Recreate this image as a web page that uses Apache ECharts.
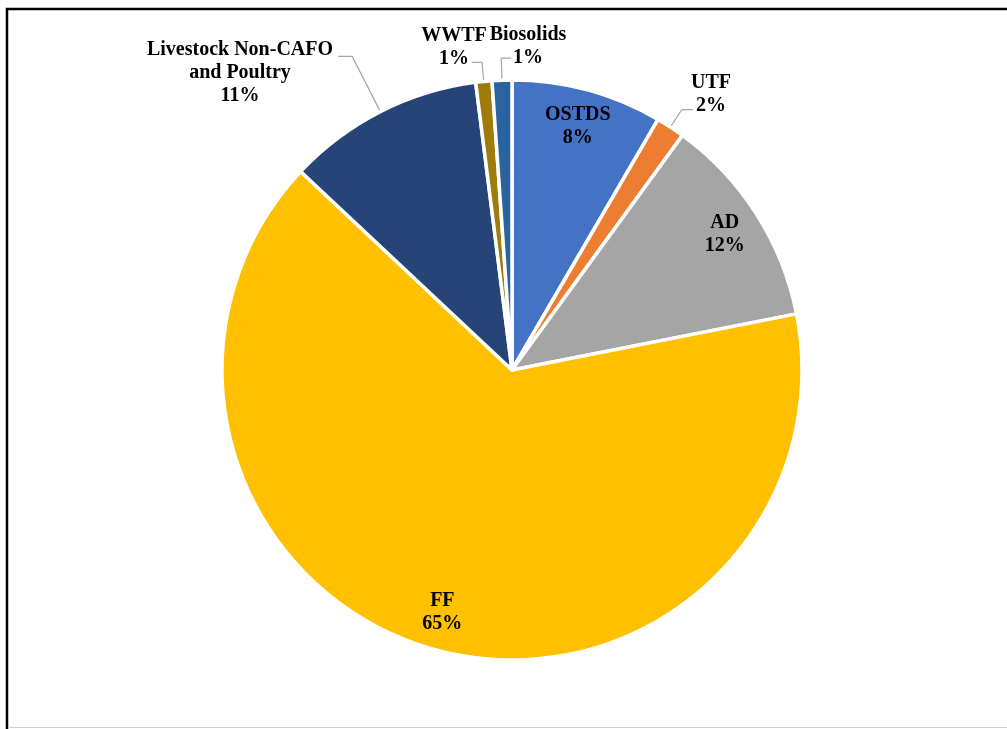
<!DOCTYPE html>
<html>
<head>
<meta charset="utf-8">
<script src="https://cdn.jsdelivr.net/npm/echarts@6/dist/echarts.min.js"></script>
<style>
html,body{margin:0;padding:0;background:#fff;}
#chart{width:1007px;height:729px;}
</style>
</head>
<body>
<div id="chart"></div>
<script>
// ---- data ----
const categories = ['OSTDS', 'UTF', 'AD', 'FF', 'Livestock Non-CAFO\nand Poultry', 'WWTF', 'Biosolids'];
const shares = [8.4, 1.6, 11.9, 65.1, 11.0, 0.9, 1.1];
const colors = ['#4472C4', '#ED7D31', '#A5A5A5', '#FFC000', '#264478', '#9E7B0A', '#2A64A0'];
const insideLabelIdx = [0, 2, 3];

// ---- layout for outside labels (label position, leader line lengths) ----
const outsideLayout = {
  1: { x: 711, y: 94, len: 21, len2: 11, dir: 1 },
  4: { x: 240, y: 73, len: 62, len2: 14, dir: -1 },
  5: { x: 454, y: 47, len: 19, len2: 10, dir: -1 },
  6: { x: 528, y: 46, len: 22, len2: 10, dir: 1 }
};

const FONT = '"Liberation Serif", "Times New Roman", serif';
const labelText = {
  fontFamily: FONT, fontWeight: 'bold', fontSize: 20, lineHeight: 23, color: '#000'
};
const fmt = p => p.name + '\n' + Math.round(p.value) + '%';

const R = 290;
const C = [512, 370];

const mainData = categories.map((c, i) => ({
  name: c, value: shares[i],
  itemStyle: { color: colors[i] },
  label: { show: outsideLayout[i] !== undefined },
  labelLine: { show: outsideLayout[i] !== undefined }
}));
const overlayData = categories.map((c, i) => ({
  name: c, value: shares[i],
  label: { show: insideLabelIdx.indexOf(i) >= 0 }
}));

const chart = echarts.init(document.getElementById('chart'), null, { renderer: 'canvas' });
chart.setOption({
  animation: false,
  backgroundColor: '#fff',
  graphic: [
    { type: 'rect', shape: { x: 7, y: 9, width: 1200, height: 1000 },
      style: { fill: 'none', stroke: '#000', lineWidth: 2.5 }, z: 100 },
    { type: 'line', shape: { x1: 8, y1: 727.5, x2: 1007, y2: 727.5 },
      style: { stroke: '#d0d0d0', lineWidth: 1 }, z: 100 }
  ],
  series: [
    {
      type: 'pie',
      center: C,
      radius: R,
      startAngle: 90,
      clockwise: true,
      avoidLabelOverlap: false,
      silent: true,
      itemStyle: { borderColor: '#fff', borderWidth: 3.5 },
      label: Object.assign({ position: 'outside', formatter: fmt, align: 'center' }, labelText),
      labelLine: { length: 20, length2: 10, lineStyle: { color: '#A6A6A6', width: 1.2 } },
      labelLayout: function (params) {
        const L = outsideLayout[params.dataIndex];
        if (!L || !params.labelLinePoints) return {};
        const pts = params.labelLinePoints;
        const p0 = pts[0], p1 = pts[1];
        const dx = p1[0] - p0[0], dy = p1[1] - p0[1];
        const d = Math.sqrt(dx * dx + dy * dy) || 1;
        const e = [p0[0] + dx / d * L.len, p0[1] + dy / d * L.len];
        const f = [e[0] + L.dir * L.len2, e[1]];
        return {
          x: L.x, y: L.y, align: 'center', verticalAlign: 'middle',
          labelLinePoints: [p0, e, f]
        };
      },
      emphasis: { disabled: true },
      data: mainData
    },
    {
      type: 'pie',
      center: C,
      radius: [R * 0.72, R],
      startAngle: 90,
      clockwise: true,
      silent: true,
      z: 3,
      itemStyle: { color: 'rgba(0,0,0,0)', borderWidth: 0 },
      label: Object.assign({ position: 'inside', formatter: fmt }, labelText),
      labelLine: { show: false },
      emphasis: { disabled: true },
      data: overlayData
    }
  ]
});
</script>
</body>
</html>
